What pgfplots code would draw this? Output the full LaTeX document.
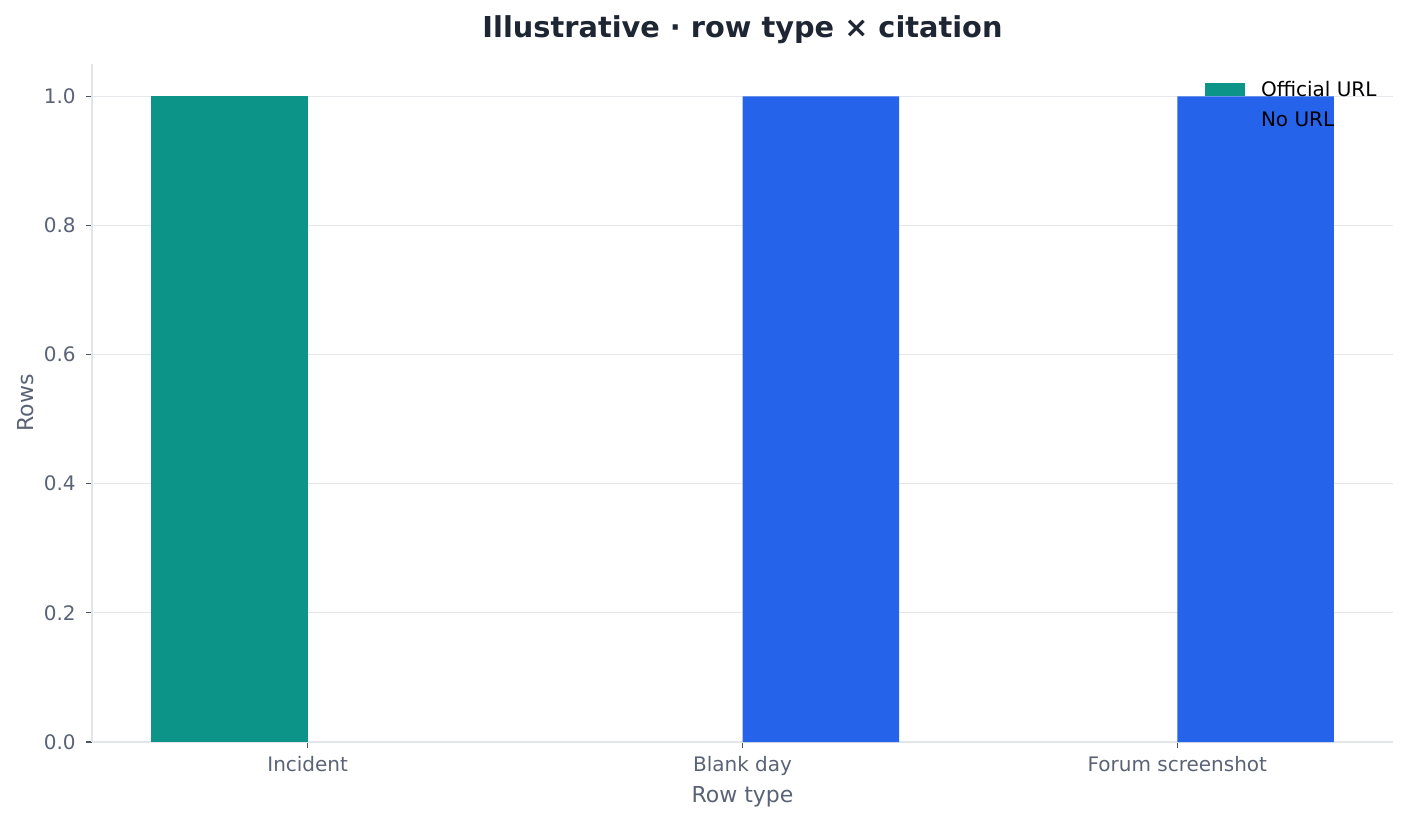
\documentclass[border=0pt]{standalone}
\usepackage{fontspec}
\setmainfont{DejaVu Sans}
\usepackage{pgfplots}
\pgfplotsset{compat=1.18}
\definecolor{teal1}{HTML}{0D9488}
\definecolor{blue1}{HTML}{2563EB}
\definecolor{gridc}{HTML}{E5E7EB}
\definecolor{spinec}{HTML}{E2E5EA}
\definecolor{tickc}{HTML}{5A6376}
\definecolor{tickm}{HTML}{4B5563}
\definecolor{titlec}{HTML}{1E2533}
\begin{document}
\begin{tikzpicture}
\path[use as bounding box] (0,0) rectangle (705pt,410.5pt);
\begin{axis}[
  at={(46pt,39.5pt)}, anchor=south west,
  scale only axis, width=650.5pt, height=339pt,
  xmin=-0.496, xmax=2.496, ymin=0, ymax=1.05,
  ybar, bar width=0.36,
  axis x line*=bottom, axis y line*=left,
  axis line style={spinec, line width=0.7pt, -},
  xtick={0,1,2}, xticklabels={Incident, Blank day, Forum screenshot},
  ytick={0,0.2,0.4,0.6,0.8,1},
  ymajorgrids, grid style={gridc, line width=0.5pt},
  major tick length=3pt, tick align=outside,
  tick style={tickm, line width=0.6pt},
  ticklabel style={font=\fontsize{10}{12}\selectfont, text=tickc},
  /pgf/number format/.cd, fixed, fixed zerofill, precision=1, assume math mode=true, /pgfplots/.cd,
  yticklabel style={anchor=east, inner sep=0pt, xshift=-5pt},
  xticklabel style={anchor=base, inner sep=0pt, yshift=-11.5pt},
  title={Illustrative · row type × citation},
  every axis title shift=0pt,
  title style={font=\bfseries\fontsize{14.4}{17}\selectfont, text=titlec, at={(axis description cs:0.5,1.0398)}, anchor=base, yshift=0pt},
  xlabel={Row type},
  xlabel style={font=\fontsize{11}{13}\selectfont, text=tickc, at={(axis description cs:0.5,-0.0885)}, anchor=base},
  ylabel={Rows},
  ylabel style={font=\fontsize{11}{13}\selectfont, text=tickc, at={(axis description cs:-0.04535,0.5)}, anchor=base, rotate=0},
  legend style={draw=none, fill=none, at={(axis description cs:0.8555,0.97345)}, anchor=north west,
    inner sep=0pt, outer sep=0pt, row sep=5.5pt, column sep=8pt,
    font=\fontsize{10}{12}\selectfont, text=black,
    cells={anchor=base west}, nodes={inner sep=0pt, text height=7.5pt, text depth=2pt}},
]
\addplot[fill=teal1, draw=none, bar shift=-0.18,
  legend image code/.code={\fill[teal1] (0pt,0.25pt) rectangle (20pt,7pt);}]
  coordinates {(0,1)};
\addplot[fill=blue1, draw=none, bar shift=0.18,
  legend image code/.code={\fill[blue1] (0pt,0.25pt) rectangle (20pt,7pt);}]
  coordinates {(1,1) (2,1)};
\legend{Official URL, No URL}
\end{axis}
\end{tikzpicture}
\end{document}
